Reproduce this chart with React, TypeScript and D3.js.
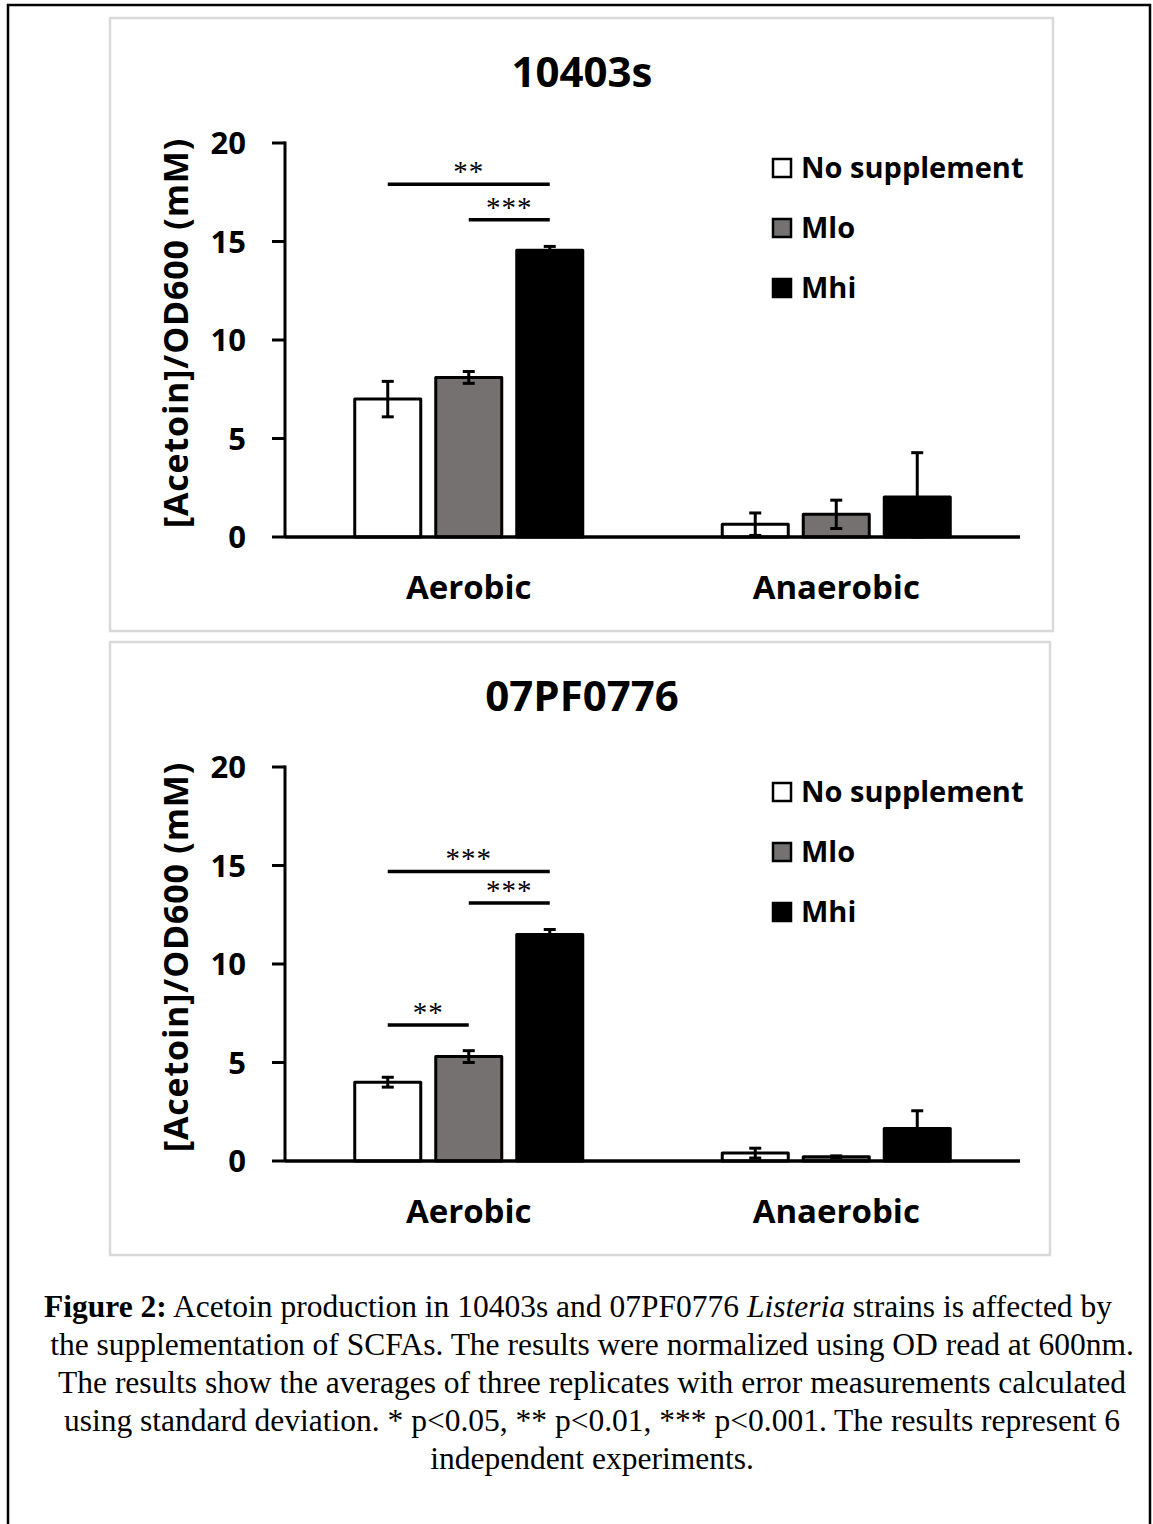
import React from "react";
import * as d3 from "d3";

// ---------- data ----------
const conditions = ["Aerobic", "Anaerobic"];
const seriesNames = ["No supplement", "Mlo", "Mhi"];
const seriesFills = ["#ffffff", "#767171", "#000000"];
const yTicks = [0, 5, 10, 15, 20];
const yLabel = "[Acetoin]/OD600 (mM)";

const strainTitles = ["10403s", "07PF0776"];

// strain 10403s: per series, values for [Aerobic, Anaerobic]
const s1NoSupp = [7.0, 0.65];
const s1NoSuppSd = [0.9, 0.57];
const s1Mlo = [8.1, 1.15];
const s1MloSd = [0.3, 0.72];
const s1Mhi = [14.55, 2.03];
const s1MhiSd = [0.2, 2.25];

// strain 07PF0776
const s2NoSupp = [4.0, 0.4];
const s2NoSuppSd = [0.25, 0.25];
const s2Mlo = [5.3, 0.22];
const s2MloSd = [0.3, 0.04];
const s2Mhi = [11.5, 1.65];
const s2MhiSd = [0.25, 0.9];

// significance brackets (within Aerobic group), height in data units
const s1Brackets = [
  { from: "No supplement", to: "Mhi", at: 17.9, label: "**" },
  { from: "Mlo", to: "Mhi", at: 16.1, label: "***" },
];
const s2Brackets = [
  { from: "No supplement", to: "Mhi", at: 14.7, label: "***" },
  { from: "Mlo", to: "Mhi", at: 13.1, label: "***" },
  { from: "No supplement", to: "Mlo", at: 6.9, label: "**" },
];

const captionBold = "Figure 2:";
const captionLine1a = " Acetoin production in 10403s and 07PF0776 ";
const captionItalic = "Listeria";
const captionLine1b = " strains is affected by";
const captionLines = [
  "the supplementation of SCFAs. The results were normalized using OD read at 600nm.",
  "The results show the averages of three replicates with error measurements calculated",
  "using standard deviation. * p<0.05, ** p<0.01, *** p<0.001. The results represent 6",
  "independent experiments.",
];

// ---------- layout ----------
const W = 1153;
const H = 1524;
const SANS = "'Open Sans', sans-serif";
const SERIF = "'Liberation Serif', 'Times New Roman', serif";

type Bracket = { from: string; to: string; at: number; label: string };

function Panel(props: {
  off: number;
  title: string;
  means: number[][];
  sds: number[][];
  brackets: Bracket[];
  panelRect: { x: number; y: number; w: number; h: number };
}) {
  const { off, title, means, sds, brackets, panelRect } = props;
  const x0 = 285;
  const x1 = 1020;
  const yZero = 537 + off;
  const yMax = 143 + off;

  const x = d3.scaleBand<string>().domain(conditions).range([x0, x1]).padding(0);
  const xs = d3
    .scaleBand<string>()
    .domain(seriesNames)
    .range([0, x.bandwidth()])
    .paddingInner(0.185)
    .paddingOuter(0.861);
  const y = d3.scaleLinear().domain([0, 20]).range([yZero, yMax]);
  const bw = xs.bandwidth();
  const cap = 6;

  return (
    <g>
      <rect
        x={panelRect.x}
        y={panelRect.y}
        width={panelRect.w}
        height={panelRect.h}
        fill="#ffffff"
        stroke="#d9d9d9"
        strokeWidth={2.5}
      />
      <text
        x={582}
        y={87 + off}
        textAnchor="middle"
        fontFamily={SANS}
        fontWeight="bold"
        fontSize={42}
      >
        {title}
      </text>

      {/* y axis */}
      <line x1={x0} x2={x0} y1={yMax - 1.5} y2={yZero} stroke="#000" strokeWidth={3} />
      {yTicks.map((t) => (
        <g key={t}>
          <line x1={x0 - 13} x2={x0} y1={y(t)} y2={y(t)} stroke="#000" strokeWidth={3} />
          <text
            x={246}
            y={y(t)}
            dy="0.36em"
            textAnchor="end"
            fontFamily={SANS}
            fontWeight="bold"
            fontSize={31}
          >
            {t}
          </text>
        </g>
      ))}
      <text
        transform={`translate(176,${333 + off}) rotate(-90)`}
        textAnchor="middle"
        dy="0.36em"
        fontFamily={SANS}
        fontWeight="bold"
        fontSize={34}
        letterSpacing={0.8}
      >
        {yLabel}
      </text>

      {/* bars */}
      {conditions.map((c, ci) =>
        seriesNames.map((s, si) => {
          const v = means[si][ci];
          const bx = (x(c) as number) + (xs(s) as number);
          return (
            <rect
              key={c + s}
              x={bx}
              y={y(v)}
              width={bw}
              height={yZero - y(v)}
              fill={seriesFills[si]}
              stroke="#000"
              strokeWidth={3}
              strokeLinejoin="round"
            />
          );
        })
      )}

      {/* error bars */}
      {conditions.map((c, ci) =>
        seriesNames.map((s, si) => {
          const v = means[si][ci];
          const sd = sds[si][ci];
          const cx = (x(c) as number) + (xs(s) as number) + bw / 2;
          const yHi = y(v + sd);
          const yLo = y(Math.max(0, v - sd));
          return (
            <g key={"e" + c + s} stroke="#000" strokeWidth={3}>
              <line x1={cx} x2={cx} y1={yHi} y2={yLo} />
              <line x1={cx - cap} x2={cx + cap} y1={yHi} y2={yHi} />
              <line x1={cx - cap} x2={cx + cap} y1={yLo} y2={yLo} />
            </g>
          );
        })
      )}

      {/* x axis */}
      <line x1={x0} x2={x1} y1={yZero} y2={yZero} stroke="#000" strokeWidth={3.5} />
      {conditions.map((c) => (
        <text
          key={c}
          x={(x(c) as number) + x.bandwidth() / 2}
          y={yZero + 62}
          textAnchor="middle"
          fontFamily={SANS}
          fontWeight="bold"
          fontSize={33}
        >
          {c}
        </text>
      ))}

      {/* significance */}
      {brackets.map((b, i) => {
        const g = x(conditions[0]) as number;
        const xa = g + (xs(b.from) as number) + bw / 2;
        const xb = g + (xs(b.to) as number) + bw / 2;
        const yy = y(b.at);
        return (
          <g key={"b" + i}>
            <line x1={xa} x2={xb} y1={yy} y2={yy} stroke="#000" strokeWidth={3.5} />
            <text
              x={(xa + xb) / 2}
              y={yy - 3}
              textAnchor="middle"
              fontFamily={SERIF}
              fontSize={29}
              letterSpacing={1}
            >
              {b.label}
            </text>
          </g>
        );
      })}

      {/* legend */}
      {seriesNames.map((s, si) => {
        const cy = 168 + off + si * 60;
        return (
          <g key={"l" + s}>
            <rect
              x={773}
              y={cy - 9}
              width={18}
              height={18}
              fill={seriesFills[si]}
              stroke="#000"
              strokeWidth={2.5}
            />
            <text
              x={801}
              y={cy}
              dy="0.36em"
              fontFamily={SANS}
              fontWeight="bold"
              fontSize={29}
            >
              {s}
            </text>
          </g>
        );
      })}
    </g>
  );
}

export default function App() {
  return (
    <svg
      width={W}
      height={H}
      viewBox={`0 0 ${W} ${H}`}
      style={{ position: "absolute", left: 0, top: 0, background: "#fff" }}
    >
      <rect x={0} y={0} width={W} height={H} fill="#fff" />
      <path d={`M8,${H} V5 H1150 V${H}`} fill="none" stroke="#000" strokeWidth={2.5} />

      <Panel
        off={0}
        title={strainTitles[0]}
        means={[s1NoSupp, s1Mlo, s1Mhi]}
        sds={[s1NoSuppSd, s1MloSd, s1MhiSd]}
        brackets={s1Brackets}
        panelRect={{ x: 110, y: 18, w: 943, h: 613 }}
      />
      <Panel
        off={624}
        title={strainTitles[1]}
        means={[s2NoSupp, s2Mlo, s2Mhi]}
        sds={[s2NoSuppSd, s2MloSd, s2MhiSd]}
        brackets={s2Brackets}
        panelRect={{ x: 110, y: 642, w: 940, h: 613 }}
      />

      <g fontFamily={SERIF} fontSize={31.5} textAnchor="middle">
        <text x={578} y={1317}>
          <tspan fontWeight="bold">{captionBold}</tspan>
          <tspan>{captionLine1a}</tspan>
          <tspan fontStyle="italic">{captionItalic}</tspan>
          <tspan>{captionLine1b}</tspan>
        </text>
        {captionLines.map((l, i) => (
          <text key={i} x={592} y={1355 + i * 38}>
            {l}
          </text>
        ))}
      </g>
    </svg>
  );
}
